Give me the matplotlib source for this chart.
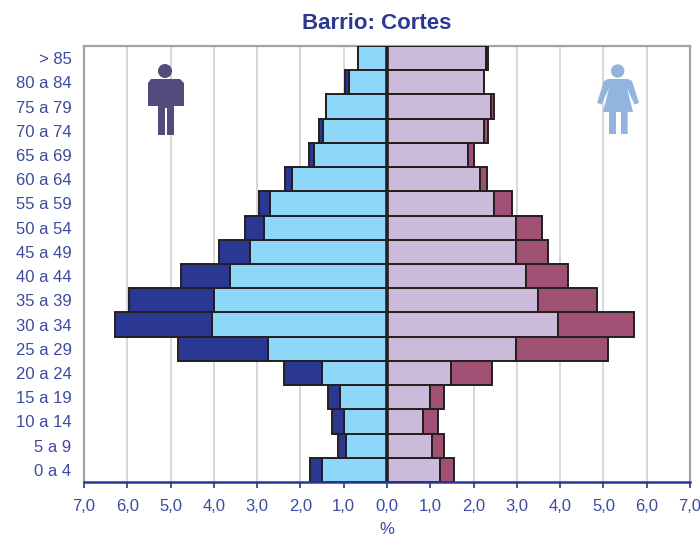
import matplotlib
matplotlib.use("Agg")
import matplotlib.pyplot as plt
from matplotlib.patches import Circle, Polygon

plt.rcParams["font.family"] = ["Liberation Sans", "DejaVu Sans"]

# Age groups, bottom to top
ages = ["0 a 4", "5 a 9", "10 a 14", "15 a 19", "20 a 24", "25 a 29", "30 a 34",
        "35 a 39", "40 a 44", "45 a 49", "50 a 54", "55 a 59", "60 a 64",
        "65 a 69", "70 a 74", "75 a 79", "80 a 84", "> 85"]

# Inner segment and full bar length for each sex (%)
men_inner = [1.51, 0.94, 0.99, 1.09, 1.51, 2.75, 4.05, 4.00, 3.63, 3.17, 2.85,
             2.71, 2.19, 1.69, 1.49, 1.42, 0.88, 0.68]
men_total = [1.79, 1.14, 1.28, 1.37, 2.39, 4.83, 6.29, 5.97, 4.75, 3.87, 3.27,
             2.95, 2.35, 1.80, 1.57, 1.42, 0.96, 0.68]
women_inner = [1.22, 1.03, 0.84, 0.99, 1.49, 2.97, 3.94, 3.48, 3.20, 2.97, 2.97,
               2.47, 2.14, 1.86, 2.23, 2.41, 2.23, 2.28]
women_total = [1.55, 1.31, 1.17, 1.31, 2.42, 5.10, 5.70, 4.85, 4.18, 3.72, 3.58,
               2.89, 2.32, 2.00, 2.33, 2.47, 2.23, 2.33]

xticks = [-7, -6, -5, -4, -3, -2, -1, 0, 1, 2, 3, 4, 5, 6, 7]
xticklabels = ["7,0", "6,0", "5,0", "4,0", "3,0", "2,0", "1,0", "0,0",
               "1,0", "2,0", "3,0", "4,0", "5,0", "6,0", "7,0"]

NAVY = "#2a3893"
TEXT = "#3c4a9e"
EDGE = "#231f20"
W, H = 700, 537

fig = plt.figure(figsize=(W / 100, H / 100), dpi=100, facecolor="white")
ax = fig.add_axes([84 / W, 1 - 482 / H, (690 - 84) / W, (482 - 46) / H])

y = list(range(len(ages)))
men_extra = [t - i for t, i in zip(men_total, men_inner)]
women_extra = [t - i for t, i in zip(women_total, women_inner)]
bar = dict(height=1.0, edgecolor=EDGE, linewidth=1.4, zorder=3)

ax.barh(y, [-v for v in men_inner], color="#8dd7f9", **bar)
ax.barh(y, [-v for v in men_extra], left=[-v for v in men_inner], color=NAVY, **bar)
ax.barh(y, women_inner, color="#cbbada", **bar)
ax.barh(y, women_extra, left=women_inner, color="#a05073", **bar)
ax.axvline(0, color=EDGE, linewidth=2.6, zorder=4)

ax.set_xlim(-7, 7)
ax.set_ylim(-0.5, len(ages) - 0.5)
ax.set_xticks(xticks)
ax.set_xticklabels(xticklabels, fontsize=12, color=TEXT)
ax.set_yticks(y)
ax.set_yticklabels(ages, fontsize=12, color=TEXT)
ax.tick_params(axis="y", length=0, pad=9)
ax.tick_params(axis="x", length=4, width=1.2, color=NAVY, pad=8)
ax.xaxis.grid(True, color="#d4d4d4", linewidth=1.3, zorder=0)
ax.set_axisbelow(True)
ax.set_xlabel("%", fontsize=12, color=TEXT, labelpad=6)

for side in ["top", "left", "right"]:
    ax.spines[side].set_color("#a3a3a3")
    ax.spines[side].set_linewidth(1.6)
ax.spines["bottom"].set_color(NAVY)
ax.spines["bottom"].set_linewidth(1.8)
ax.spines["bottom"].set_zorder(5)

fig.text(377 / W, 1 - 23.5 / H, "Barrio: Cortes", fontsize=16, fontweight="bold",
         color=NAVY, ha="center", va="center")

# Pictograms, drawn in pixel coordinates of the figure
icons = fig.add_axes([0, 0, 1, 1], facecolor="none")
icons.set_xlim(0, W)
icons.set_ylim(H, 0)
icons.axis("off")

MAN = "#544a7d"
icons.add_patch(Circle((165, 71), 7, color=MAN, lw=0))
man = [(151, 79), (180, 79), (184, 83), (184, 106), (174, 106), (174, 135),
       (167, 135), (167, 108), (165, 108), (165, 135), (158, 135), (158, 106),
       (148, 106), (148, 83)]
icons.add_patch(Polygon(man, closed=True, color=MAN, lw=0))

WOMAN = "#92b4de"
icons.add_patch(Circle((617.7, 71), 6.7, color=WOMAN, lw=0))
woman = [(608, 79), (628, 79), (632, 81), (639, 103), (634.5, 104.5), (627, 88),
         (633, 112), (627.7, 112), (627.7, 134), (621, 134), (621, 112), (616, 112),
         (616, 134), (609, 134), (609, 112), (603, 112), (609, 88), (601.5, 104.5),
         (597, 103), (604, 81)]
icons.add_patch(Polygon(woman, closed=True, color=WOMAN, lw=0))

fig.savefig("out.png", dpi=100)
